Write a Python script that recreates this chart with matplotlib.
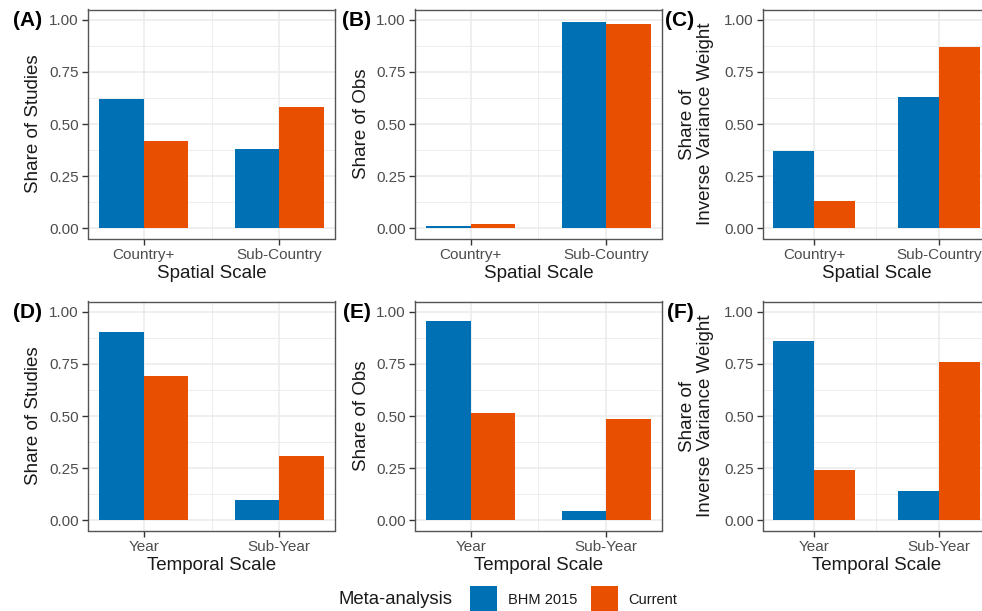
import numpy as np
import matplotlib.pyplot as plt
from matplotlib.patches import Rectangle

plt.rcParams['font.family'] = ['Liberation Sans', 'DejaVu Sans']

# categories
spatial_cats = ['Country+', 'Sub-Country']
temporal_cats = ['Year', 'Sub-Year']
series_names = ['BHM 2015', 'Current']

# shares (BHM 2015, Current)
studies_spatial_bhm = [0.62, 0.38]
studies_spatial_cur = [0.42, 0.58]
obs_spatial_bhm = [0.01, 0.99]
obs_spatial_cur = [0.02, 0.98]
ivw_spatial_bhm = [0.37, 0.63]
ivw_spatial_cur = [0.13, 0.87]

studies_temporal_bhm = [0.905, 0.095]
studies_temporal_cur = [0.69, 0.31]
obs_temporal_bhm = [0.955, 0.045]
obs_temporal_cur = [0.515, 0.485]
ivw_temporal_bhm = [0.862, 0.138]
ivw_temporal_cur = [0.24, 0.76]

colors = ['#0070B4', '#E84F00']
W, H = 982, 611

fig = plt.figure(figsize=(W / 100, H / 100), dpi=100)


def px_axes(left, top, right, bottom):
    return fig.add_axes([left / W, 1 - bottom / H, (right - left) / W, (bottom - top) / H])


# tag, categories, bhm, current, ylabel lines, xlabel, axes box (px), ylabel line centres x, tag centre x
panels = [
    ('(A)', spatial_cats, studies_spatial_bhm, studies_spatial_cur, ['Share of Studies'], 'Spatial Scale', (88, 9.5, 335, 238.5), [34], 27.5),
    ('(B)', spatial_cats, obs_spatial_bhm, obs_spatial_cur, ['Share of Obs'], 'Spatial Scale', (415, 9.5, 662, 238.5), [362], 357),
    ('(C)', spatial_cats, ivw_spatial_bhm, ivw_spatial_cur, ['Share of', 'Inverse Variance Weight'], 'Spatial Scale', (763, 9.5, 990, 238.5), [687, 706], 680),
    ('(D)', temporal_cats, studies_temporal_bhm, studies_temporal_cur, ['Share of Studies'], 'Temporal Scale', (88, 301.5, 335, 530.5), [34], 27.5),
    ('(E)', temporal_cats, obs_temporal_bhm, obs_temporal_cur, ['Share of Obs'], 'Temporal Scale', (415, 301.5, 662, 530.5), [362], 357),
    ('(F)', temporal_cats, ivw_temporal_bhm, ivw_temporal_cur, ['Share of', 'Inverse Variance Weight'], 'Temporal Scale', (763, 301.5, 990, 530.5), [687, 706], 680),
]

bw = 0.33
for tag, cats, bhm, cur, ylines, xlab, box, ylab_xs, tag_x in panels:
    left, top, right, bottom = box
    ax = px_axes(left, top, right, bottom)
    x = np.arange(1, len(cats) + 1)
    ax.bar(x - bw / 2, bhm, width=bw, color=colors[0], zorder=3)
    ax.bar(x + bw / 2, cur, width=bw, color=colors[1], zorder=3)
    ax.set_xlim(0.59, 2.41)
    ax.set_ylim(-0.05, 1.05)
    ax.set_xticks(x)
    ax.set_xticklabels(cats)
    ax.set_yticks([0, 0.25, 0.5, 0.75, 1.0])
    ax.set_yticklabels(['0.00', '0.25', '0.50', '0.75', '1.00'])
    ax.set_yticks([0.125, 0.375, 0.625, 0.875], minor=True)
    ax.set_xticks([1.5], minor=True)
    ax.grid(which='major', color='#EBEBEB', linewidth=1.1, zorder=0)
    ax.grid(which='minor', color='#EBEBEB', linewidth=0.6, zorder=0)
    ax.tick_params(which='major', length=4, width=1, color='#333333',
                   labelsize=11, labelcolor='#4D4D4D', pad=2.5)
    ax.tick_params(which='minor', length=0)
    for sp in ax.spines.values():
        sp.set_color('#555555')
        sp.set_linewidth(1.0)
    ax.set_axisbelow(True)

    h = bottom - top
    # y titles, one text per line
    for line, lx in zip(ylines, ylab_xs):
        fig.text(lx / W, 1 - (top + bottom) / 2 / H, line, fontsize=13.5, color='#1A1A1A',
                 rotation=90, ha='center', va='center')
    ax.set_xlabel(xlab, fontsize=13.5, color='#1A1A1A')
    ax.xaxis.label.set_verticalalignment('center')
    ax.xaxis.set_label_coords(0.5, -35 / h)

    fig.text(tag_x / W, 1 - (top + 11) / H, tag, fontsize=15,
             fontweight='bold', ha='center', va='center', color='black')

# legend along the bottom
fig.text(339 / W, 1 - 600 / H, 'Meta-analysis', fontsize=13.3, ha='left', va='center', color='#1A1A1A')
key_x = [470, 591]
lab_x = [508, 628]
for kx, lx, c, name in zip(key_x, lab_x, colors, series_names):
    fig.add_artist(Rectangle((kx / W, 1 - 614 / H), 27 / W, 28 / H,
                             transform=fig.transFigure, facecolor=c, edgecolor='none'))
    fig.text(lx / W, 1 - 600 / H, name, fontsize=10.5, ha='left', va='center', color='#1A1A1A')

fig.savefig('out.png', dpi=100)
